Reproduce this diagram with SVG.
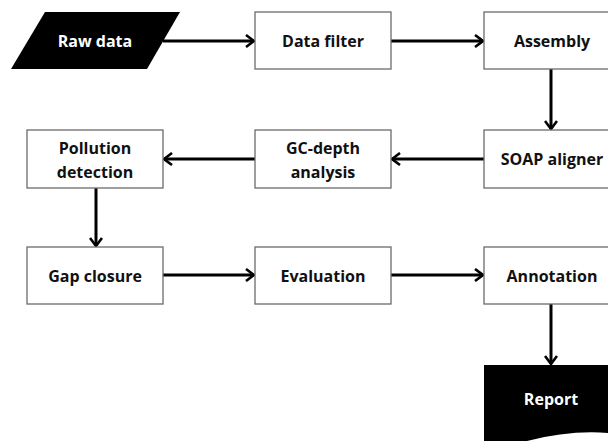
<svg xmlns="http://www.w3.org/2000/svg" width="608" height="441" viewBox="0 0 608 441">
<defs>
<marker id="ah" markerWidth="12" markerHeight="14" refX="10" refY="7" orient="auto" markerUnits="userSpaceOnUse">
<path d="M2,1 L10,7 L2,13" fill="none" stroke="#000" stroke-width="2.6"/>
</marker>
<style>
.box{fill:#fff;stroke:#6b6b6b;stroke-width:1.3}
.t{font-family:"Open Sans","Liberation Sans",sans-serif;font-weight:bold;font-size:16px;fill:#111;text-anchor:middle}
.w{fill:#fff}
.c{fill:none;stroke:#000;stroke-width:3;marker-end:url(#ah)}
</style>
</defs>
<rect width="608" height="441" fill="#fff"/>
<g id="connectors">
<path class="c" d="M163,41 H254"/>
<path class="c" d="M391,41 H483"/>
<path class="c" d="M551,69 V129"/>
<path class="c" d="M484,159 H392"/>
<path class="c" d="M255,159 H164"/>
<path class="c" d="M96,188 V246"/>
<path class="c" d="M163,275 H254"/>
<path class="c" d="M391,275 H483"/>
<path class="c" d="M551,304 V364"/>
</g>
<g id="raw-data">
<polygon points="45,12 180,12 147,69 11,69" fill="#000"/>
<text class="t w" x="95" y="47">Raw data</text>
</g>
<g id="data-filter">
<rect class="box" x="255" y="12" width="136" height="57"/>
<text class="t" x="323" y="47">Data filter</text>
</g>
<g id="assembly">
<rect class="box" x="484" y="12" width="136" height="57"/>
<text class="t" x="552" y="47">Assembly</text>
</g>
<g id="soap-aligner">
<rect class="box" x="484" y="130" width="136" height="58"/>
<text class="t" x="552" y="165">SOAP aligner</text>
</g>
<g id="gc-depth">
<rect class="box" x="255" y="130" width="136" height="58"/>
<text class="t" x="323" y="154">GC-depth</text>
<text class="t" x="323" y="178">analysis</text>
</g>
<g id="pollution">
<rect class="box" x="27" y="130" width="136" height="58"/>
<text class="t" x="95" y="154">Pollution</text>
<text class="t" x="95" y="178">detection</text>
</g>
<g id="gap-closure">
<rect class="box" x="27" y="247" width="136" height="57"/>
<text class="t" x="95" y="282">Gap closure</text>
</g>
<g id="evaluation">
<rect class="box" x="255" y="247" width="136" height="57"/>
<text class="t" x="323" y="282">Evaluation</text>
</g>
<g id="annotation">
<rect class="box" x="484" y="247" width="136" height="57"/>
<text class="t" x="552" y="282">Annotation</text>
</g>
<g id="report">
<path d="M484,365 H620 V441 H484 Z" fill="#000"/>
<path d="M527,441 Q570,430 608,433 V441 Z" fill="#fff"/>
<text class="t w" x="551" y="405">Report</text>
</g>
</svg>
